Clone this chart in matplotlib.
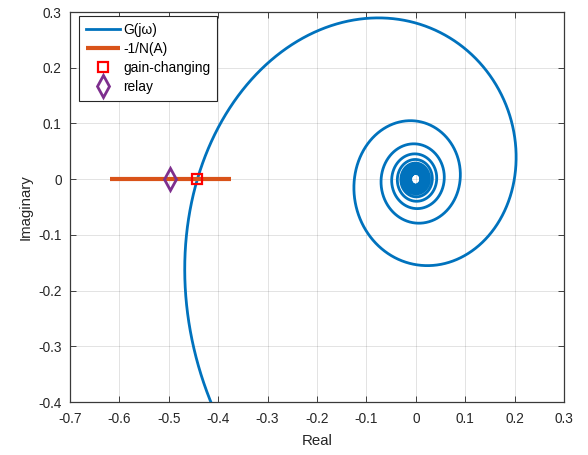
import numpy as np
import matplotlib
matplotlib.use("Agg")
import matplotlib.pyplot as plt

# ---- data ----
# plant G(s) = K * exp(-L s) / (T s + 1)
gain_K = 1.0
time_const_T = 1.0
delay_L = 1.0
omega_min_exp = -2      # log10 of lowest frequency
omega_max_exp = 2       # log10 of highest frequency
n_freq = 40000

# -1/N(A) locus on the negative real axis
nA_real = [-0.62, -0.375]
nA_imag = [0.0, 0.0]

# intersection points
gain_changing_pt = (-0.443, 0.0)
relay_pt = (-0.497, 0.0)

xticks = [-0.7, -0.6, -0.5, -0.4, -0.3, -0.2, -0.1, 0, 0.1, 0.2, 0.3]
yticks = [-0.4, -0.3, -0.2, -0.1, 0, 0.1, 0.2, 0.3]
xtick_labels = ["-0.7", "-0.6", "-0.5", "-0.4", "-0.3", "-0.2", "-0.1", "0", "0.1", "0.2", "0.3"]
ytick_labels = ["-0.4", "-0.3", "-0.2", "-0.1", "0", "0.1", "0.2", "0.3"]

# ---- frequency response ----
w = np.logspace(omega_min_exp, omega_max_exp, n_freq)
G = gain_K * np.exp(-1j * w * delay_L) / (1j * w * time_const_T + 1)

plt.rcParams['font.family'] = ['Liberation Sans', 'DejaVu Sans']

fig = plt.figure(figsize=(5.88, 4.55), dpi=100)
ax = fig.add_axes([70 / 588, 1 - 402 / 455, (564 - 70) / 588, (402 - 12) / 455])

blue = '#0072BD'
orange = '#D95319'
purple = '#7E2F8E'
axcol = '#262626'

ax.plot(G.real, G.imag, color=blue, lw=2.0, label='G(jω)', zorder=3)
ax.plot(nA_real, nA_imag, color=orange, lw=3.0, solid_capstyle='butt',
        label='-1/N(A)', zorder=4)
ax.plot([gain_changing_pt[0]], [gain_changing_pt[1]], ls='none', marker='s',
        ms=7, mfc='none', mec='#FF0000', mew=1.6, label='gain-changing', zorder=5)
ax.plot([relay_pt[0]], [relay_pt[1]], ls='none', marker='d',
        ms=11, mfc='none', mec=purple, mew=2.0, label='relay', zorder=5)

ax.set_xlim(-0.7, 0.3)
ax.set_ylim(-0.4, 0.3)
ax.set_xticks(xticks)
ax.set_xticklabels(xtick_labels)
ax.set_yticks(yticks)
ax.set_yticklabels(ytick_labels)

ax.grid(True, color=axcol, alpha=0.15, lw=0.6)
ax.set_axisbelow(True)
ax.tick_params(direction='in', length=4, width=0.6, colors=axcol,
               top=True, right=True, labelsize=9.8)
ax.tick_params(axis='x', pad=7)
ax.tick_params(axis='y', pad=6)
for sp in ax.spines.values():
    sp.set_color('#3a3a3a')
    sp.set_linewidth(0.9)

ax.set_xlabel('Real', fontsize=10.8, color=axcol, labelpad=6)
ax.set_ylabel('Imaginary', fontsize=10.8, color=axcol, labelpad=4)

leg = ax.legend(loc='upper left', prop={'size': 9.9}, frameon=True, fancybox=False,
                edgecolor=axcol, framealpha=1, borderpad=0.5,
                handlelength=2.5, handletextpad=0.2, labelspacing=0.36,
                borderaxespad=0.3)
leg.get_frame().set_linewidth(0.8)
leg.set_bbox_to_anchor((9 / 494, 1 - 4 / 390), transform=ax.transAxes)
leg._loc = 2
leg.borderaxespad = 0

fig.savefig('out.png', dpi=100)
